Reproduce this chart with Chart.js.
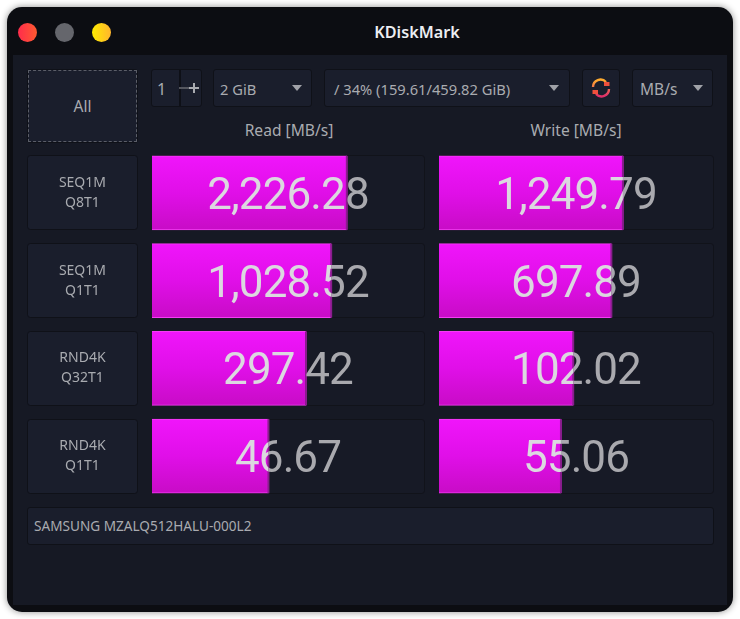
<!DOCTYPE html>
<html><head><meta charset="utf-8">
<script src="https://cdn.jsdelivr.net/npm/chart.js@4"></script>
<style>
html,body{margin:0;padding:0;background:#fff;width:740px;height:619px;overflow:hidden;font-family:"Noto Sans",sans-serif}
#win{position:absolute;left:7px;top:7px;width:726px;height:605px;background:#0c0d12;border-radius:15px;box-shadow:0 0 7px rgba(0,0,0,.45)}
#body{position:absolute;left:13px;top:55px;width:714px;height:550px;background:#161924}
.t{position:absolute;color:#a9abb0;font-size:14.7px;white-space:nowrap;line-height:20px}
.w{position:absolute;background:#1a1e2c;border:1px solid #0f1118;border-radius:3px;box-sizing:border-box}
.dot{position:absolute;top:23px;width:19px;height:19px;border-radius:50%}
.arrow{position:absolute;width:0;height:0;border-left:5px solid transparent;border-right:5px solid transparent;border-top:6px solid #a0a2a8;top:85px}
canvas{position:absolute;display:block}
</style></head><body>
<div id="win"></div><div id="body"></div>
<div class="dot" style="left:18px;background:linear-gradient(90deg,#ff2c4c,#ff5a30)"></div>
<div class="dot" style="left:55px;background:#65666c"></div>
<div class="dot" style="left:92px;background:linear-gradient(90deg,#ffec00,#ffb52e)"></div>
<div class="t" style="left:317px;width:200px;text-align:center;top:22px;color:#eceef2;font-weight:600;font-size:16.2px" id="title"></div>

<div class="w" style="left:27px;top:69px;width:111px;height:74px"><div style="position:absolute;inset:0;border:1px dashed #5b5e68"></div></div>
<div class="t" style="left:27px;width:111px;text-align:center;top:96px;font-size:15.5px">All</div>

<div class="w" style="left:151px;top:69px;width:51px;height:38px"></div>
<div style="position:absolute;left:179px;top:70px;width:2px;height:36px;background:#0e1017"></div>
<div class="t" style="left:157px;top:79px;font-size:16px">1</div>
<div style="position:absolute;left:179px;top:87px;width:10px;height:2px;background:#55575f"></div>
<div style="position:absolute;left:189px;top:87px;width:10px;height:2px;background:#a9abb0"></div>
<div style="position:absolute;left:193px;top:83px;width:2px;height:10px;background:#a9abb0"></div>

<div class="w" style="left:213px;top:69px;width:99px;height:38px"></div>
<div class="t" style="left:220px;top:79px" id="size"></div>
<div class="arrow" style="left:292px"></div>

<div class="w" style="left:324px;top:69px;width:246px;height:38px"></div>
<div class="t" style="left:334px;top:79px" id="drive"></div>
<div class="arrow" style="left:549px"></div>

<div class="w" style="left:582px;top:69px;width:38px;height:38px"></div>
<svg style="position:absolute;left:591px;top:78px" width="20" height="20" viewBox="0 0 20 20">
<defs><linearGradient id="g" gradientUnits="userSpaceOnUse" x1="0" y1="2" x2="0" y2="18"><stop offset="0" stop-color="#ffab2e"/><stop offset="1" stop-color="#e0306a"/></linearGradient></defs>
<path d="M2 9 A7.5 7.5 0 0 1 15 4 M18 11 A7.5 7.5 0 0 1 5 16" fill="none" stroke="url(#g)" stroke-width="2.4"/>
<rect x="13" y="4" width="5.5" height="4" fill="#f0503c"/><rect x="1.5" y="12" width="5.5" height="4" fill="#f0503c"/>
</svg>

<div class="w" style="left:632px;top:69px;width:81px;height:38px"></div>
<div class="t" style="left:640px;top:79px;font-size:15.5px" id="unit"></div>
<div class="arrow" style="left:693px"></div>

<div class="t" style="left:152px;width:274px;text-align:center;top:120px;font-size:15.6px" id="h1"></div>
<div class="t" style="left:439px;width:274px;text-align:center;top:120px;font-size:15.6px" id="h2"></div>

<canvas id="read" width="398" height="351" style="left:27px;top:149px"></canvas>
<canvas id="write" width="275" height="351" style="left:439px;top:149px"></canvas>

<div class="w" style="left:27px;top:507px;width:687px;height:38px"></div>
<div class="t" style="left:34px;top:516px;font-size:13.6px" id="dev"></div>

<script>
const appTitle = "KDiskMark";
const fileSize = "2 GiB";
const driveLabel = "/ 34% (159.61/459.82 GiB)";
const unitLabel = "MB/s";
const readTitle = "Read [MB/s]";
const writeTitle = "Write [MB/s]";
const deviceName = "SAMSUNG MZALQ512HALU-000L2";
const categories = [["SEQ1M","Q8T1"],["SEQ1M","Q1T1"],["RND4K","Q32T1"],["RND4K","Q1T1"]];
const readValues = [2226.28, 1028.52, 297.42, 46.67];
const writeValues = [1249.79, 697.89, 102.02, 55.06];

document.getElementById('title').textContent = appTitle;
document.getElementById('size').textContent = fileSize;
document.getElementById('drive').textContent = driveLabel;
document.getElementById('unit').textContent = unitLabel;
document.getElementById('h1').textContent = readTitle;
document.getElementById('h2').textContent = writeTitle;
document.getElementById('dev').textContent = deviceName;

const VALUE_FONT = '400 44px Roboto';
const ROW_H = 75;

function box(ctx,x,y,w,h,fill,stroke){
  ctx.beginPath(); ctx.roundRect(x+.5,y+.5,w-1,h-1,3);
  ctx.fillStyle=fill; ctx.fill(); ctx.strokeStyle=stroke; ctx.lineWidth=1; ctx.stroke();
}
const panels = {
  id:'panels',
  beforeDraw(chart){
    const {ctx,chartArea:a,scales:{y}} = chart;
    categories.forEach((c,i)=>{
      const cy=y.getPixelForValue(i), top=Math.round(cy-ROW_H/2);
      box(ctx,a.left,top,a.right-a.left,ROW_H,'#171a26','#11131a');
      if(a.left>0) box(ctx,0,top,111,ROW_H,'#1a1e2c','#0f1118');
    });
  }
};
const valueText = {
  id:'valueText',
  afterDatasetsDraw(chart){
    const {ctx,chartArea:a,scales:{x,y}} = chart;
    const data = chart.data.datasets[0].data;
    const mid=(a.left+a.right)/2-0.5;
    data.forEach((v,i)=>{
      const end=x.getPixelForValue(v), cy=y.getPixelForValue(i), top=cy-ROW_H/2;
      ctx.fillStyle='#8a1c8e'; ctx.fillRect(end-1,top+.5,2,ROW_H-1);
      const s=v.toLocaleString('en-US',{minimumFractionDigits:2,maximumFractionDigits:2});
      [[a.left,end,'#dcd8e0'],[end,a.right,'#a9a9ae']].forEach(([l,r,col])=>{
        ctx.save(); ctx.beginPath(); ctx.rect(l,top,r-l,ROW_H); ctx.clip();
        ctx.font=VALUE_FONT; ctx.letterSpacing='-0.9px'; ctx.textAlign='center'; ctx.textBaseline='middle';
        ctx.fillStyle=col; ctx.fillText(s,mid,cy+5);
        ctx.restore();
      });
    });
  }
};
function makeChart(id,values,label,min,max,showLabels){
  return new Chart(document.getElementById(id),{
    type:'bar',
    data:{labels:categories,datasets:[{label,data:values,
      barThickness:74,
      borderWidth:1,
      borderColor:'#f43ef4',
      backgroundColor(c){
        const sc=c.chart.scales.y;
        if(!sc||c.dataIndex===undefined) return '#e010e8';
        const cy=sc.getPixelForValue(c.dataIndex);
        if(!Number.isFinite(cy)) return '#e010e8';
        const g=c.chart.ctx.createLinearGradient(0,cy-37,0,cy+37);
        g.addColorStop(0,'#f015fb'); g.addColorStop(.5,'#e00fe8'); g.addColorStop(1,'#c80cc6');
        return g;
      }}]},
    options:{
      indexAxis:'y',responsive:false,animation:false,devicePixelRatio:1,
      layout:{padding:0,autoPadding:false},
      plugins:{legend:{display:false},title:{display:false},tooltip:{enabled:false}},
      scales:{
        x:{type:'logarithmic',min,max,display:false},
        y:{display:showLabels,grid:{display:false},border:{display:false},
           afterFit(s){ if(showLabels){ s.width=125; s.paddingTop=0; s.paddingBottom=0; } },
           ticks:{color:'#a9abb0',crossAlign:'center',padding:38,font:{family:'"Noto Sans"',size:14,lineHeight:1.43},autoSkip:false}}
      }
    },
    plugins:[panels,valueText]
  });
}
makeChart('read',readValues,readTitle,0.15,105000,true);
makeChart('write',writeValues,writeTitle,0.118,123000,false);
</script>
</body></html>
